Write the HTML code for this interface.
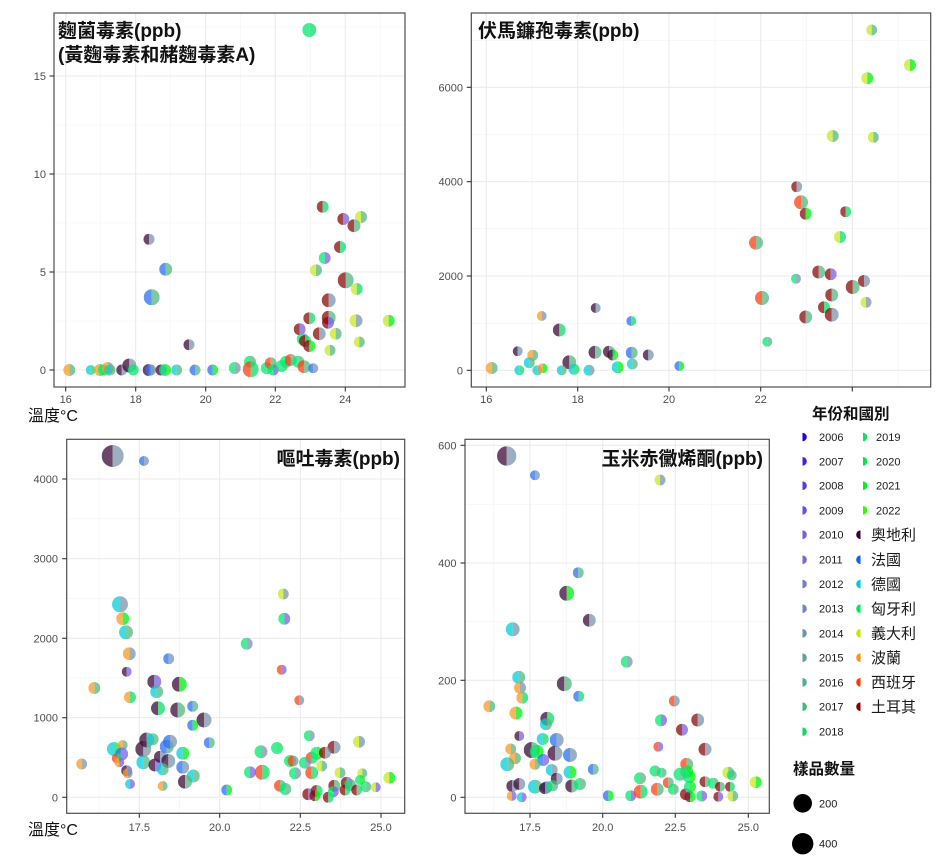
<!DOCTYPE html>
<html><head><meta charset="utf-8"><style>
html,body{margin:0;padding:0;background:#fff;}
svg{display:block;font-family:"Liberation Sans","Noto Sans CJK TC",sans-serif;}
.tk{font-size:11px;fill:#4d4d4d;}
.lg{font-size:11px;fill:#1a1a1a;}
.ct{font-size:15px;fill:#1a1a1a;font-family:"Liberation Sans","Noto Sans CJK TC",sans-serif;}
.ttl{font-size:19px;font-weight:bold;fill:#111;}
.lt{font-size:15.5px;font-weight:bold;fill:#111;}
.ax{font-size:16px;fill:#111;}
.gM{stroke:#ebebeb;stroke-width:1.1;}
.gm{stroke:#f2f2f2;stroke-width:0.6;}
.bd{fill:none;stroke:#4d4d4d;stroke-width:1.2;}
.tm{stroke:#333;stroke-width:1.1;}
.A{fill:#3b0a38}.F{fill:#2a70f5}.D{fill:#00d0dc}.H{fill:#00ec70}.I{fill:#c8e820}.P{fill:#ff9a20}.S{fill:#ff4010}.T{fill:#8b0a0a}
.y1{fill:#7895ab}.y2{fill:#55b580}.y3{fill:#10dc68}.y4{fill:#00ee10}.y5{fill:#7a60e0}
</style></head><body>
<svg width="941" height="862" viewBox="0 0 941 862" xmlns="http://www.w3.org/2000/svg">
<defs>
<clipPath id="L" clipPathUnits="objectBoundingBox"><rect x="0" y="0" width="0.5" height="1"/></clipPath>
<clipPath id="R" clipPathUnits="objectBoundingBox"><rect x="0.5" y="0" width="0.5" height="1"/></clipPath>
</defs>
<rect width="941" height="862" fill="#fff"/>

<!-- ============ PANEL 1 ============ -->
<g>
<line class="gm" x1="54" x2="405" y1="321" y2="321"/><line class="gm" x1="54" x2="405" y1="223" y2="223"/><line class="gm" x1="54" x2="405" y1="125" y2="125"/><line class="gm" x1="54" x2="405" y1="27" y2="27"/>
<line class="gm" y1="13" y2="387" x1="100.7" x2="100.7"/><line class="gm" y1="13" y2="387" x1="170.7" x2="170.7"/><line class="gm" y1="13" y2="387" x1="240.7" x2="240.7"/><line class="gm" y1="13" y2="387" x1="310.7" x2="310.7"/><line class="gm" y1="13" y2="387" x1="380.7" x2="380.7"/>
<line class="gM" x1="54" x2="405" y1="370" y2="370"/><line class="gM" x1="54" x2="405" y1="272" y2="272"/><line class="gM" x1="54" x2="405" y1="174" y2="174"/><line class="gM" x1="54" x2="405" y1="76" y2="76"/>
<line class="gM" y1="13" y2="387" x1="65.7" x2="65.7"/><line class="gM" y1="13" y2="387" x1="135.7" x2="135.7"/><line class="gM" y1="13" y2="387" x1="205.7" x2="205.7"/><line class="gM" y1="13" y2="387" x1="275.3" x2="275.3"/><line class="gM" y1="13" y2="387" x1="345.3" x2="345.3"/>
</g>
<g fill-opacity="0.75">
<circle cx="309.3" cy="30" r="7" class="H" clip-path="url(#L)"/><circle cx="309.3" cy="30" r="7" class="y3" clip-path="url(#R)"/>
<circle cx="322.7" cy="206.7" r="6" class="T" clip-path="url(#L)"/><circle cx="322.7" cy="206.7" r="6" class="y3" clip-path="url(#R)"/>
<circle cx="343.3" cy="219" r="6" class="T" clip-path="url(#L)"/><circle cx="343.3" cy="219" r="6" class="y5" clip-path="url(#R)"/>
<circle cx="361" cy="217" r="6" class="I" clip-path="url(#L)"/><circle cx="361" cy="217" r="6" class="y2" clip-path="url(#R)"/>
<circle cx="354" cy="225.7" r="6.5" class="T" clip-path="url(#L)"/><circle cx="354" cy="225.7" r="6.5" class="y2" clip-path="url(#R)"/>
<circle cx="340" cy="247" r="6" class="T" clip-path="url(#L)"/><circle cx="340" cy="247" r="6" class="y3" clip-path="url(#R)"/>
<circle cx="324.7" cy="258" r="6" class="H" clip-path="url(#L)"/><circle cx="324.7" cy="258" r="6" class="y5" clip-path="url(#R)"/>
<circle cx="316" cy="270.3" r="6" class="I" clip-path="url(#L)"/><circle cx="316" cy="270.3" r="6" class="y2" clip-path="url(#R)"/>
<circle cx="345.7" cy="280.3" r="8" class="T" clip-path="url(#L)"/><circle cx="345.7" cy="280.3" r="8" class="y2" clip-path="url(#R)"/>
<circle cx="356.7" cy="289" r="6" class="I" clip-path="url(#L)"/><circle cx="356.7" cy="289" r="6" class="y3" clip-path="url(#R)"/>
<circle cx="328.7" cy="300.3" r="7" class="T" clip-path="url(#L)"/><circle cx="328.7" cy="300.3" r="7" class="y1" clip-path="url(#R)"/>
<circle cx="309.3" cy="318.3" r="6" class="T" clip-path="url(#L)"/><circle cx="309.3" cy="318.3" r="6" class="y3" clip-path="url(#R)"/>
<circle cx="328.7" cy="317.7" r="7" class="T" clip-path="url(#L)"/><circle cx="328.7" cy="317.7" r="7" class="y2" clip-path="url(#R)"/>
<circle cx="328" cy="322.7" r="6" class="T" clip-path="url(#L)"/><circle cx="328" cy="322.7" r="6" class="y5" clip-path="url(#R)"/>
<circle cx="356" cy="320.7" r="6.5" class="I" clip-path="url(#L)"/><circle cx="356" cy="320.7" r="6.5" class="y1" clip-path="url(#R)"/>
<circle cx="388.7" cy="320.7" r="6" class="I" clip-path="url(#L)"/><circle cx="388.7" cy="320.7" r="6" class="y4" clip-path="url(#R)"/>
<circle cx="299.7" cy="329.3" r="6" class="T" clip-path="url(#L)"/><circle cx="299.7" cy="329.3" r="6" class="y5" clip-path="url(#R)"/>
<circle cx="319.3" cy="333.7" r="6.5" class="T" clip-path="url(#L)"/><circle cx="319.3" cy="333.7" r="6.5" class="y1" clip-path="url(#R)"/>
<circle cx="335.7" cy="333.7" r="6" class="I" clip-path="url(#L)"/><circle cx="335.7" cy="333.7" r="6" class="y2" clip-path="url(#R)"/>
<circle cx="302.7" cy="339" r="6" class="H" clip-path="url(#L)"/><circle cx="302.7" cy="339" r="6" class="y1" clip-path="url(#R)"/>
<circle cx="305" cy="341" r="6" class="T" clip-path="url(#L)"/><circle cx="305" cy="341" r="6" class="y3" clip-path="url(#R)"/>
<circle cx="309.3" cy="346" r="6" class="T" clip-path="url(#L)"/><circle cx="309.3" cy="346" r="6" class="y4" clip-path="url(#R)"/>
<circle cx="359.3" cy="342" r="5.5" class="I" clip-path="url(#L)"/><circle cx="359.3" cy="342" r="5.5" class="y2" clip-path="url(#R)"/>
<circle cx="330" cy="350.3" r="5.5" class="I" clip-path="url(#L)"/><circle cx="330" cy="350.3" r="5.5" class="y2" clip-path="url(#R)"/>
<circle cx="149" cy="239.3" r="5.5" class="A" clip-path="url(#L)"/><circle cx="149" cy="239.3" r="5.5" class="y1" clip-path="url(#R)"/>
<circle cx="165.7" cy="269.3" r="6.5" class="F" clip-path="url(#L)"/><circle cx="165.7" cy="269.3" r="6.5" class="y2" clip-path="url(#R)"/>
<circle cx="151.7" cy="297.3" r="8" class="F" clip-path="url(#L)"/><circle cx="151.7" cy="297.3" r="8" class="y2" clip-path="url(#R)"/>
<circle cx="189" cy="344.7" r="5.5" class="A" clip-path="url(#L)"/><circle cx="189" cy="344.7" r="5.5" class="y1" clip-path="url(#R)"/>
<circle cx="69.3" cy="370" r="6" class="P" clip-path="url(#L)"/><circle cx="69.3" cy="370" r="6" class="y2" clip-path="url(#R)"/>
<circle cx="90.7" cy="370" r="5" class="D" clip-path="url(#L)"/><circle cx="90.7" cy="370" r="5" class="y3" clip-path="url(#R)"/>
<circle cx="100" cy="370" r="6" class="P" clip-path="url(#L)"/><circle cx="100" cy="370" r="6" class="y3" clip-path="url(#R)"/>
<circle cx="103.3" cy="370" r="5.5" class="H" clip-path="url(#L)"/><circle cx="103.3" cy="370" r="5.5" class="y4" clip-path="url(#R)"/>
<circle cx="107.7" cy="368" r="6" class="P" clip-path="url(#L)"/><circle cx="107.7" cy="368" r="6" class="y1" clip-path="url(#R)"/>
<circle cx="110" cy="370" r="5.5" class="D" clip-path="url(#L)"/><circle cx="110" cy="370" r="5.5" class="y2" clip-path="url(#R)"/>
<circle cx="121.7" cy="370" r="5.5" class="A" clip-path="url(#L)"/><circle cx="121.7" cy="370" r="5.5" class="y1" clip-path="url(#R)"/>
<circle cx="129.3" cy="365.5" r="7" class="A" clip-path="url(#L)"/><circle cx="129.3" cy="365.5" r="7" class="y1" clip-path="url(#R)"/>
<circle cx="133.3" cy="370" r="5.5" class="H" clip-path="url(#L)"/><circle cx="133.3" cy="370" r="5.5" class="y3" clip-path="url(#R)"/>
<circle cx="148.7" cy="370" r="6" class="A" clip-path="url(#L)"/><circle cx="148.7" cy="370" r="6" class="y1" clip-path="url(#R)"/>
<circle cx="150.7" cy="370" r="5.5" class="F" clip-path="url(#L)"/><circle cx="150.7" cy="370" r="5.5" class="y1" clip-path="url(#R)"/>
<circle cx="161" cy="370" r="5.5" class="A" clip-path="url(#L)"/><circle cx="161" cy="370" r="5.5" class="y5" clip-path="url(#R)"/>
<circle cx="165" cy="370" r="6" class="H" clip-path="url(#L)"/><circle cx="165" cy="370" r="6" class="y4" clip-path="url(#R)"/>
<circle cx="176.7" cy="370" r="5.5" class="D" clip-path="url(#L)"/><circle cx="176.7" cy="370" r="5.5" class="y2" clip-path="url(#R)"/>
<circle cx="195" cy="370" r="5.5" class="F" clip-path="url(#L)"/><circle cx="195" cy="370" r="5.5" class="y2" clip-path="url(#R)"/>
<circle cx="212.7" cy="370" r="5.5" class="F" clip-path="url(#L)"/><circle cx="212.7" cy="370" r="5.5" class="y4" clip-path="url(#R)"/>
<circle cx="234.7" cy="368" r="6" class="H" clip-path="url(#L)"/><circle cx="234.7" cy="368" r="6" class="y1" clip-path="url(#R)"/>
<circle cx="250" cy="361.7" r="6" class="H" clip-path="url(#L)"/><circle cx="250" cy="361.7" r="6" class="y2" clip-path="url(#R)"/>
<circle cx="250.7" cy="369.3" r="8" class="S" clip-path="url(#L)"/><circle cx="250.7" cy="369.3" r="8" class="y3" clip-path="url(#R)"/>
<circle cx="266.7" cy="368.3" r="6" class="H" clip-path="url(#L)"/><circle cx="266.7" cy="368.3" r="6" class="y3" clip-path="url(#R)"/>
<circle cx="270.7" cy="363.3" r="6" class="S" clip-path="url(#L)"/><circle cx="270.7" cy="363.3" r="6" class="y2" clip-path="url(#R)"/>
<circle cx="273.3" cy="370" r="5.5" class="H" clip-path="url(#L)"/><circle cx="273.3" cy="370" r="5.5" class="y5" clip-path="url(#R)"/>
<circle cx="281.7" cy="366" r="6" class="H" clip-path="url(#L)"/><circle cx="281.7" cy="366" r="6" class="y3" clip-path="url(#R)"/>
<circle cx="286" cy="361.7" r="6" class="H" clip-path="url(#L)"/><circle cx="286" cy="361.7" r="6" class="y2" clip-path="url(#R)"/>
<circle cx="290.7" cy="360" r="6" class="S" clip-path="url(#L)"/><circle cx="290.7" cy="360" r="6" class="y2" clip-path="url(#R)"/>
<circle cx="298.3" cy="361.7" r="6" class="H" clip-path="url(#L)"/><circle cx="298.3" cy="361.7" r="6" class="y2" clip-path="url(#R)"/>
<circle cx="304" cy="366.7" r="6.5" class="S" clip-path="url(#L)"/><circle cx="304" cy="366.7" r="6.5" class="y2" clip-path="url(#R)"/>
<circle cx="313.3" cy="368.3" r="5" class="F" clip-path="url(#L)"/><circle cx="313.3" cy="368.3" r="5" class="y1" clip-path="url(#R)"/>
</g>
<rect class="bd" x="54" y="13" width="351" height="374"/>
<g class="tm">
<line x1="49.5" x2="54" y1="370" y2="370"/><line x1="49.5" x2="54" y1="272" y2="272"/><line x1="49.5" x2="54" y1="174" y2="174"/><line x1="49.5" x2="54" y1="76" y2="76"/>
<line y1="387" y2="391.5" x1="65.7" x2="65.7"/><line y1="387" y2="391.5" x1="135.7" x2="135.7"/><line y1="387" y2="391.5" x1="205.7" x2="205.7"/><line y1="387" y2="391.5" x1="275.3" x2="275.3"/><line y1="387" y2="391.5" x1="345.3" x2="345.3"/>
</g>
<g class="tk" text-anchor="end">
<text x="46" y="374">0</text><text x="46" y="276">5</text><text x="46" y="178">10</text><text x="46" y="80">15</text>
</g>
<g class="tk" text-anchor="middle">
<text x="65.7" y="403">16</text><text x="135.7" y="403">18</text><text x="205.7" y="403">20</text><text x="275.3" y="403">22</text><text x="345.3" y="403">24</text>
</g>
<text class="ttl" x="58" y="37">麴菌毒素(ppb)</text>
<text class="ttl" x="58" y="61">(黃麴毒素和赭麴毒素A)</text>
<text class="ax" x="28" y="421">溫度°C</text>

<!-- ============ PANEL 2 ============ -->
<g>
<line class="gm" x1="471.3" x2="930.7" y1="323.2" y2="323.2"/><line class="gm" x1="471.3" x2="930.7" y1="228.8" y2="228.8"/><line class="gm" x1="471.3" x2="930.7" y1="134.5" y2="134.5"/><line class="gm" x1="471.3" x2="930.7" y1="40.2" y2="40.2"/>
<line class="gm" y1="13" y2="387" x1="532" x2="532"/><line class="gm" y1="13" y2="387" x1="623.4" x2="623.4"/><line class="gm" y1="13" y2="387" x1="714.9" x2="714.9"/><line class="gm" y1="13" y2="387" x1="806.5" x2="806.5"/><line class="gm" y1="13" y2="387" x1="898" x2="898"/>
<line class="gM" x1="471.3" x2="930.7" y1="370.3" y2="370.3"/><line class="gM" x1="471.3" x2="930.7" y1="276" y2="276"/><line class="gM" x1="471.3" x2="930.7" y1="181.7" y2="181.7"/><line class="gM" x1="471.3" x2="930.7" y1="87.3" y2="87.3"/>
<line class="gM" y1="13" y2="387" x1="486.3" x2="486.3"/><line class="gM" y1="13" y2="387" x1="577.7" x2="577.7"/><line class="gM" y1="13" y2="387" x1="669" x2="669"/><line class="gM" y1="13" y2="387" x1="760.7" x2="760.7"/><line class="gM" y1="13" y2="387" x1="852.3" x2="852.3"/>
</g>
<g fill-opacity="0.75">
<circle cx="871.7" cy="30" r="5.5" class="I" clip-path="url(#L)"/><circle cx="871.7" cy="30" r="5.5" class="y2" clip-path="url(#R)"/>
<circle cx="910" cy="65" r="6" class="I" clip-path="url(#L)"/><circle cx="910" cy="65" r="6" class="y4" clip-path="url(#R)"/>
<circle cx="867.3" cy="78.3" r="6" class="I" clip-path="url(#L)"/><circle cx="867.3" cy="78.3" r="6" class="y4" clip-path="url(#R)"/>
<circle cx="832.7" cy="136" r="6" class="I" clip-path="url(#L)"/><circle cx="832.7" cy="136" r="6" class="y2" clip-path="url(#R)"/>
<circle cx="873.3" cy="137.3" r="5.5" class="I" clip-path="url(#L)"/><circle cx="873.3" cy="137.3" r="5.5" class="y2" clip-path="url(#R)"/>
<circle cx="796.7" cy="186.7" r="5.5" class="T" clip-path="url(#L)"/><circle cx="796.7" cy="186.7" r="5.5" class="y1" clip-path="url(#R)"/>
<circle cx="801" cy="202.3" r="7" class="S" clip-path="url(#L)"/><circle cx="801" cy="202.3" r="7" class="y2" clip-path="url(#R)"/>
<circle cx="805.7" cy="213.7" r="6" class="T" clip-path="url(#L)"/><circle cx="805.7" cy="213.7" r="6" class="y4" clip-path="url(#R)"/>
<circle cx="845.7" cy="211.7" r="5.5" class="T" clip-path="url(#L)"/><circle cx="845.7" cy="211.7" r="5.5" class="y3" clip-path="url(#R)"/>
<circle cx="840" cy="237" r="6" class="I" clip-path="url(#L)"/><circle cx="840" cy="237" r="6" class="y3" clip-path="url(#R)"/>
<circle cx="756" cy="242.7" r="7" class="S" clip-path="url(#L)"/><circle cx="756" cy="242.7" r="7" class="y2" clip-path="url(#R)"/>
<circle cx="818.7" cy="272" r="6.5" class="T" clip-path="url(#L)"/><circle cx="818.7" cy="272" r="6.5" class="y2" clip-path="url(#R)"/>
<circle cx="830.7" cy="274.3" r="6" class="T" clip-path="url(#L)"/><circle cx="830.7" cy="274.3" r="6" class="y5" clip-path="url(#R)"/>
<circle cx="796" cy="278.7" r="5" class="H" clip-path="url(#L)"/><circle cx="796" cy="278.7" r="5" class="y1" clip-path="url(#R)"/>
<circle cx="864" cy="281" r="6" class="T" clip-path="url(#L)"/><circle cx="864" cy="281" r="6" class="y1" clip-path="url(#R)"/>
<circle cx="852.7" cy="287" r="7" class="T" clip-path="url(#L)"/><circle cx="852.7" cy="287" r="7" class="y2" clip-path="url(#R)"/>
<circle cx="762" cy="298" r="7" class="S" clip-path="url(#L)"/><circle cx="762" cy="298" r="7" class="y2" clip-path="url(#R)"/>
<circle cx="831.7" cy="295" r="6.5" class="T" clip-path="url(#L)"/><circle cx="831.7" cy="295" r="6.5" class="y2" clip-path="url(#R)"/>
<circle cx="866" cy="302.3" r="5.5" class="I" clip-path="url(#L)"/><circle cx="866" cy="302.3" r="5.5" class="y1" clip-path="url(#R)"/>
<circle cx="824" cy="307.3" r="6" class="T" clip-path="url(#L)"/><circle cx="824" cy="307.3" r="6" class="y3" clip-path="url(#R)"/>
<circle cx="831.7" cy="314.7" r="7" class="T" clip-path="url(#L)"/><circle cx="831.7" cy="314.7" r="7" class="y1" clip-path="url(#R)"/>
<circle cx="805.7" cy="317" r="6.5" class="T" clip-path="url(#L)"/><circle cx="805.7" cy="317" r="6.5" class="y2" clip-path="url(#R)"/>
<circle cx="767.3" cy="341.7" r="5" class="H" clip-path="url(#L)"/><circle cx="767.3" cy="341.7" r="5" class="y2" clip-path="url(#R)"/>
<circle cx="541.7" cy="316" r="5" class="P" clip-path="url(#L)"/><circle cx="541.7" cy="316" r="5" class="y1" clip-path="url(#R)"/>
<circle cx="595.7" cy="308" r="5" class="A" clip-path="url(#L)"/><circle cx="595.7" cy="308" r="5" class="y1" clip-path="url(#R)"/>
<circle cx="631.3" cy="321" r="5" class="F" clip-path="url(#L)"/><circle cx="631.3" cy="321" r="5" class="y3" clip-path="url(#R)"/>
<circle cx="559.3" cy="330" r="6.5" class="A" clip-path="url(#L)"/><circle cx="559.3" cy="330" r="6.5" class="y3" clip-path="url(#R)"/>
<circle cx="517.7" cy="351.3" r="5" class="A" clip-path="url(#L)"/><circle cx="517.7" cy="351.3" r="5" class="y1" clip-path="url(#R)"/>
<circle cx="532.7" cy="355.3" r="5.5" class="P" clip-path="url(#L)"/><circle cx="532.7" cy="355.3" r="5.5" class="y2" clip-path="url(#R)"/>
<circle cx="529.3" cy="362.7" r="5.5" class="D" clip-path="url(#L)"/><circle cx="529.3" cy="362.7" r="5.5" class="y2" clip-path="url(#R)"/>
<circle cx="569.3" cy="362.3" r="7" class="A" clip-path="url(#L)"/><circle cx="569.3" cy="362.3" r="7" class="y2" clip-path="url(#R)"/>
<circle cx="595" cy="352.3" r="6.5" class="A" clip-path="url(#L)"/><circle cx="595" cy="352.3" r="6.5" class="y2" clip-path="url(#R)"/>
<circle cx="609" cy="351.7" r="6" class="A" clip-path="url(#L)"/><circle cx="609" cy="351.7" r="6" class="y2" clip-path="url(#R)"/>
<circle cx="612.7" cy="355" r="5.5" class="A" clip-path="url(#L)"/><circle cx="612.7" cy="355" r="5.5" class="y4" clip-path="url(#R)"/>
<circle cx="631.7" cy="352.7" r="6" class="F" clip-path="url(#L)"/><circle cx="631.7" cy="352.7" r="6" class="y2" clip-path="url(#R)"/>
<circle cx="632.3" cy="364" r="5.5" class="D" clip-path="url(#L)"/><circle cx="632.3" cy="364" r="5.5" class="y2" clip-path="url(#R)"/>
<circle cx="648.3" cy="355" r="5.5" class="A" clip-path="url(#L)"/><circle cx="648.3" cy="355" r="5.5" class="y1" clip-path="url(#R)"/>
<circle cx="491.7" cy="368" r="6" class="P" clip-path="url(#L)"/><circle cx="491.7" cy="368" r="6" class="y2" clip-path="url(#R)"/>
<circle cx="519.3" cy="370.3" r="5" class="D" clip-path="url(#L)"/><circle cx="519.3" cy="370.3" r="5" class="y3" clip-path="url(#R)"/>
<circle cx="537.3" cy="370.3" r="5" class="D" clip-path="url(#L)"/><circle cx="537.3" cy="370.3" r="5" class="y2" clip-path="url(#R)"/>
<circle cx="542.7" cy="368.3" r="5" class="P" clip-path="url(#L)"/><circle cx="542.7" cy="368.3" r="5" class="y4" clip-path="url(#R)"/>
<circle cx="561.7" cy="370.3" r="5" class="D" clip-path="url(#L)"/><circle cx="561.7" cy="370.3" r="5" class="y2" clip-path="url(#R)"/>
<circle cx="574" cy="369.3" r="5.5" class="D" clip-path="url(#L)"/><circle cx="574" cy="369.3" r="5.5" class="y3" clip-path="url(#R)"/>
<circle cx="589" cy="370.3" r="5.5" class="D" clip-path="url(#L)"/><circle cx="589" cy="370.3" r="5.5" class="y1" clip-path="url(#R)"/>
<circle cx="617.7" cy="367.3" r="6" class="D" clip-path="url(#L)"/><circle cx="617.7" cy="367.3" r="6" class="y4" clip-path="url(#R)"/>
<circle cx="679.3" cy="366" r="5" class="F" clip-path="url(#L)"/><circle cx="679.3" cy="366" r="5" class="y4" clip-path="url(#R)"/>
</g>
<rect class="bd" x="471.3" y="13" width="459.4" height="374"/>
<g class="tm">
<line x1="466.8" x2="471.3" y1="370.3" y2="370.3"/><line x1="466.8" x2="471.3" y1="276" y2="276"/><line x1="466.8" x2="471.3" y1="181.7" y2="181.7"/><line x1="466.8" x2="471.3" y1="87.3" y2="87.3"/>
<line y1="387" y2="391.5" x1="486.3" x2="486.3"/><line y1="387" y2="391.5" x1="577.7" x2="577.7"/><line y1="387" y2="391.5" x1="669" x2="669"/><line y1="387" y2="391.5" x1="760.7" x2="760.7"/><line y1="387" y2="391.5" x1="852.3" x2="852.3"/>
</g>
<g class="tk" text-anchor="end">
<text x="463" y="374.3">0</text><text x="463" y="280">2000</text><text x="463" y="185.7">4000</text><text x="463" y="91.3">6000</text>
</g>
<g class="tk" text-anchor="middle">
<text x="486.3" y="403">16</text><text x="577.7" y="403">18</text><text x="669" y="403">20</text><text x="760.7" y="403">22</text>
</g>
<text class="ttl" x="478" y="37">伏馬鐮孢毒素(ppb)</text>

<!-- ============ PANEL 3 ============ -->
<g>
<line class="gm" x1="66.7" x2="404.7" y1="757.5" y2="757.5"/><line class="gm" x1="66.7" x2="404.7" y1="678" y2="678"/><line class="gm" x1="66.7" x2="404.7" y1="598.5" y2="598.5"/><line class="gm" x1="66.7" x2="404.7" y1="518.8" y2="518.8"/>
<line class="gm" y1="439.3" y2="813.3" x1="99" x2="99"/><line class="gm" y1="439.3" y2="813.3" x1="179.5" x2="179.5"/><line class="gm" y1="439.3" y2="813.3" x1="260" x2="260"/><line class="gm" y1="439.3" y2="813.3" x1="340.6" x2="340.6"/>
<line class="gM" x1="66.7" x2="404.7" y1="797.3" y2="797.3"/><line class="gM" x1="66.7" x2="404.7" y1="717.7" y2="717.7"/><line class="gM" x1="66.7" x2="404.7" y1="638.3" y2="638.3"/><line class="gM" x1="66.7" x2="404.7" y1="558.7" y2="558.7"/><line class="gM" x1="66.7" x2="404.7" y1="479" y2="479"/>
<line class="gM" y1="439.3" y2="813.3" x1="139.3" x2="139.3"/><line class="gM" y1="439.3" y2="813.3" x1="219.7" x2="219.7"/><line class="gM" y1="439.3" y2="813.3" x1="300.3" x2="300.3"/><line class="gM" y1="439.3" y2="813.3" x1="381" x2="381"/>
</g>
<g fill-opacity="0.75">
<circle cx="112.7" cy="456" r="11" class="A" clip-path="url(#L)"/><circle cx="112.7" cy="456" r="11" class="y1" clip-path="url(#R)"/>
<circle cx="144" cy="461" r="5" class="F" clip-path="url(#L)"/><circle cx="144" cy="461" r="5" class="y1" clip-path="url(#R)"/>
<circle cx="120" cy="604.3" r="8" class="D" clip-path="url(#L)"/><circle cx="120" cy="604.3" r="8" class="y1" clip-path="url(#R)"/>
<circle cx="122.7" cy="618.7" r="6.5" class="P" clip-path="url(#L)"/><circle cx="122.7" cy="618.7" r="6.5" class="y4" clip-path="url(#R)"/>
<circle cx="126" cy="632.3" r="7" class="D" clip-path="url(#L)"/><circle cx="126" cy="632.3" r="7" class="y2" clip-path="url(#R)"/>
<circle cx="129.3" cy="653.7" r="6.5" class="P" clip-path="url(#L)"/><circle cx="129.3" cy="653.7" r="6.5" class="y1" clip-path="url(#R)"/>
<circle cx="126.7" cy="671.7" r="5" class="A" clip-path="url(#L)"/><circle cx="126.7" cy="671.7" r="5" class="y5" clip-path="url(#R)"/>
<circle cx="94.3" cy="688" r="6" class="P" clip-path="url(#L)"/><circle cx="94.3" cy="688" r="6" class="y2" clip-path="url(#R)"/>
<circle cx="130" cy="697.3" r="6" class="P" clip-path="url(#L)"/><circle cx="130" cy="697.3" r="6" class="y3" clip-path="url(#R)"/>
<circle cx="168.7" cy="658.7" r="5.5" class="F" clip-path="url(#L)"/><circle cx="168.7" cy="658.7" r="5.5" class="y1" clip-path="url(#R)"/>
<circle cx="154.3" cy="681.7" r="7" class="A" clip-path="url(#L)"/><circle cx="154.3" cy="681.7" r="7" class="y5" clip-path="url(#R)"/>
<circle cx="179.3" cy="684.3" r="7.5" class="A" clip-path="url(#L)"/><circle cx="179.3" cy="684.3" r="7.5" class="y4" clip-path="url(#R)"/>
<circle cx="156.7" cy="691.7" r="6.5" class="D" clip-path="url(#L)"/><circle cx="156.7" cy="691.7" r="6.5" class="y2" clip-path="url(#R)"/>
<circle cx="158" cy="708.3" r="7" class="A" clip-path="url(#L)"/><circle cx="158" cy="708.3" r="7" class="y3" clip-path="url(#R)"/>
<circle cx="177.7" cy="710" r="7.5" class="A" clip-path="url(#L)"/><circle cx="177.7" cy="710" r="7.5" class="y2" clip-path="url(#R)"/>
<circle cx="192.7" cy="706.3" r="5.5" class="F" clip-path="url(#L)"/><circle cx="192.7" cy="706.3" r="5.5" class="y2" clip-path="url(#R)"/>
<circle cx="204" cy="720" r="7.5" class="A" clip-path="url(#L)"/><circle cx="204" cy="720" r="7.5" class="y1" clip-path="url(#R)"/>
<circle cx="192.7" cy="725.3" r="5.5" class="F" clip-path="url(#L)"/><circle cx="192.7" cy="725.3" r="5.5" class="y4" clip-path="url(#R)"/>
<circle cx="209.3" cy="742.7" r="5.5" class="F" clip-path="url(#L)"/><circle cx="209.3" cy="742.7" r="5.5" class="y2" clip-path="url(#R)"/>
<circle cx="81.7" cy="764" r="5.5" class="P" clip-path="url(#L)"/><circle cx="81.7" cy="764" r="5.5" class="y1" clip-path="url(#R)"/>
<circle cx="114" cy="749" r="7" class="D" clip-path="url(#L)"/><circle cx="114" cy="749" r="7" class="y3" clip-path="url(#R)"/>
<circle cx="122.7" cy="745" r="5" class="P" clip-path="url(#L)"/><circle cx="122.7" cy="745" r="5" class="y2" clip-path="url(#R)"/>
<circle cx="121.7" cy="754" r="6.5" class="F" clip-path="url(#L)"/><circle cx="121.7" cy="754" r="6.5" class="y5" clip-path="url(#R)"/>
<circle cx="116.7" cy="758.3" r="5" class="S" clip-path="url(#L)"/><circle cx="116.7" cy="758.3" r="5" class="y3" clip-path="url(#R)"/>
<circle cx="119.3" cy="762.3" r="5" class="P" clip-path="url(#L)"/><circle cx="119.3" cy="762.3" r="5" class="y5" clip-path="url(#R)"/>
<circle cx="126.7" cy="770.7" r="5.5" class="A" clip-path="url(#L)"/><circle cx="126.7" cy="770.7" r="5.5" class="y5" clip-path="url(#R)"/>
<circle cx="127.7" cy="773.3" r="5" class="P" clip-path="url(#L)"/><circle cx="127.7" cy="773.3" r="5" class="y1" clip-path="url(#R)"/>
<circle cx="130" cy="784" r="5" class="D" clip-path="url(#L)"/><circle cx="130" cy="784" r="5" class="y5" clip-path="url(#R)"/>
<circle cx="162.7" cy="786" r="5" class="P" clip-path="url(#L)"/><circle cx="162.7" cy="786" r="5" class="y2" clip-path="url(#R)"/>
<circle cx="143.3" cy="749" r="8" class="A" clip-path="url(#L)"/><circle cx="143.3" cy="749" r="8" class="y1" clip-path="url(#R)"/>
<circle cx="146.7" cy="740" r="7.5" class="A" clip-path="url(#L)"/><circle cx="146.7" cy="740" r="7.5" class="y2" clip-path="url(#R)"/>
<circle cx="152.7" cy="739.3" r="6" class="D" clip-path="url(#L)"/><circle cx="152.7" cy="739.3" r="6" class="y2" clip-path="url(#R)"/>
<circle cx="143.3" cy="762.3" r="7" class="D" clip-path="url(#L)"/><circle cx="143.3" cy="762.3" r="7" class="y2" clip-path="url(#R)"/>
<circle cx="155" cy="765" r="6.5" class="A" clip-path="url(#L)"/><circle cx="155" cy="765" r="6.5" class="y5" clip-path="url(#R)"/>
<circle cx="160" cy="756.7" r="6" class="A" clip-path="url(#L)"/><circle cx="160" cy="756.7" r="6" class="y1" clip-path="url(#R)"/>
<circle cx="166.7" cy="746.7" r="7" class="F" clip-path="url(#L)"/><circle cx="166.7" cy="746.7" r="7" class="y2" clip-path="url(#R)"/>
<circle cx="170" cy="741.7" r="7" class="F" clip-path="url(#L)"/><circle cx="170" cy="741.7" r="7" class="y1" clip-path="url(#R)"/>
<circle cx="168.3" cy="761" r="7" class="A" clip-path="url(#L)"/><circle cx="168.3" cy="761" r="7" class="y1" clip-path="url(#R)"/>
<circle cx="162.7" cy="769.3" r="6" class="D" clip-path="url(#L)"/><circle cx="162.7" cy="769.3" r="6" class="y2" clip-path="url(#R)"/>
<circle cx="182.7" cy="753.3" r="6.5" class="D" clip-path="url(#L)"/><circle cx="182.7" cy="753.3" r="6.5" class="y4" clip-path="url(#R)"/>
<circle cx="182.7" cy="767.3" r="6.5" class="F" clip-path="url(#L)"/><circle cx="182.7" cy="767.3" r="6.5" class="y1" clip-path="url(#R)"/>
<circle cx="193.3" cy="776" r="6.5" class="D" clip-path="url(#L)"/><circle cx="193.3" cy="776" r="6.5" class="y2" clip-path="url(#R)"/>
<circle cx="185" cy="781.7" r="7" class="A" clip-path="url(#L)"/><circle cx="185" cy="781.7" r="7" class="y2" clip-path="url(#R)"/>
<circle cx="226.7" cy="790" r="5.5" class="F" clip-path="url(#L)"/><circle cx="226.7" cy="790" r="5.5" class="y4" clip-path="url(#R)"/>
<circle cx="246.7" cy="643.7" r="6" class="H" clip-path="url(#L)"/><circle cx="246.7" cy="643.7" r="6" class="y1" clip-path="url(#R)"/>
<circle cx="283.3" cy="594" r="5.5" class="I" clip-path="url(#L)"/><circle cx="283.3" cy="594" r="5.5" class="y1" clip-path="url(#R)"/>
<circle cx="284.3" cy="618.7" r="6" class="H" clip-path="url(#L)"/><circle cx="284.3" cy="618.7" r="6" class="y5" clip-path="url(#R)"/>
<circle cx="281.7" cy="669.7" r="5" class="S" clip-path="url(#L)"/><circle cx="281.7" cy="669.7" r="5" class="y5" clip-path="url(#R)"/>
<circle cx="299.3" cy="700.3" r="5" class="S" clip-path="url(#L)"/><circle cx="299.3" cy="700.3" r="5" class="y1" clip-path="url(#R)"/>
<circle cx="309.3" cy="735.7" r="5.5" class="H" clip-path="url(#L)"/><circle cx="309.3" cy="735.7" r="5.5" class="y1" clip-path="url(#R)"/>
<circle cx="359" cy="741.7" r="6" class="I" clip-path="url(#L)"/><circle cx="359" cy="741.7" r="6" class="y1" clip-path="url(#R)"/>
<circle cx="277" cy="748" r="6" class="H" clip-path="url(#L)"/><circle cx="277" cy="748" r="6" class="y3" clip-path="url(#R)"/>
<circle cx="261" cy="751.7" r="6.5" class="H" clip-path="url(#L)"/><circle cx="261" cy="751.7" r="6.5" class="y1" clip-path="url(#R)"/>
<circle cx="334" cy="747.3" r="6.5" class="T" clip-path="url(#L)"/><circle cx="334" cy="747.3" r="6.5" class="y1" clip-path="url(#R)"/>
<circle cx="290" cy="761" r="6" class="H" clip-path="url(#L)"/><circle cx="290" cy="761" r="6" class="y3" clip-path="url(#R)"/>
<circle cx="293" cy="761" r="5.5" class="S" clip-path="url(#L)"/><circle cx="293" cy="761" r="5.5" class="y1" clip-path="url(#R)"/>
<circle cx="311.7" cy="757.7" r="6" class="S" clip-path="url(#L)"/><circle cx="311.7" cy="757.7" r="6" class="y3" clip-path="url(#R)"/>
<circle cx="316.7" cy="753.3" r="6.5" class="H" clip-path="url(#L)"/><circle cx="316.7" cy="753.3" r="6.5" class="y4" clip-path="url(#R)"/>
<circle cx="325" cy="752.7" r="6" class="T" clip-path="url(#L)"/><circle cx="325" cy="752.7" r="6" class="y1" clip-path="url(#R)"/>
<circle cx="305" cy="762.7" r="6" class="H" clip-path="url(#L)"/><circle cx="305" cy="762.7" r="6" class="y1" clip-path="url(#R)"/>
<circle cx="321.7" cy="766" r="5.5" class="I" clip-path="url(#L)"/><circle cx="321.7" cy="766" r="5.5" class="y2" clip-path="url(#R)"/>
<circle cx="262.3" cy="772.3" r="7.5" class="S" clip-path="url(#L)"/><circle cx="262.3" cy="772.3" r="7.5" class="y3" clip-path="url(#R)"/>
<circle cx="250" cy="772.3" r="6" class="H" clip-path="url(#L)"/><circle cx="250" cy="772.3" r="6" class="y5" clip-path="url(#R)"/>
<circle cx="295" cy="773.3" r="6" class="H" clip-path="url(#L)"/><circle cx="295" cy="773.3" r="6" class="y1" clip-path="url(#R)"/>
<circle cx="311.7" cy="772.7" r="6.5" class="S" clip-path="url(#L)"/><circle cx="311.7" cy="772.7" r="6.5" class="y3" clip-path="url(#R)"/>
<circle cx="340" cy="772.7" r="5.5" class="I" clip-path="url(#L)"/><circle cx="340" cy="772.7" r="5.5" class="y2" clip-path="url(#R)"/>
<circle cx="362.3" cy="773.3" r="5" class="I" clip-path="url(#L)"/><circle cx="362.3" cy="773.3" r="5" class="y2" clip-path="url(#R)"/>
<circle cx="389.3" cy="777.7" r="6" class="I" clip-path="url(#L)"/><circle cx="389.3" cy="777.7" r="6" class="y4" clip-path="url(#R)"/>
<circle cx="280" cy="785.7" r="6" class="S" clip-path="url(#L)"/><circle cx="280" cy="785.7" r="6" class="y2" clip-path="url(#R)"/>
<circle cx="285.3" cy="789" r="6" class="H" clip-path="url(#L)"/><circle cx="285.3" cy="789" r="6" class="y2" clip-path="url(#R)"/>
<circle cx="375.7" cy="787.3" r="5" class="I" clip-path="url(#L)"/><circle cx="375.7" cy="787.3" r="5" class="y5" clip-path="url(#R)"/>
<circle cx="308.3" cy="794.3" r="6" class="T" clip-path="url(#L)"/><circle cx="308.3" cy="794.3" r="6" class="y5" clip-path="url(#R)"/>
<circle cx="316.7" cy="791" r="6" class="T" clip-path="url(#L)"/><circle cx="316.7" cy="791" r="6" class="y3" clip-path="url(#R)"/>
<circle cx="315" cy="795.7" r="5.5" class="T" clip-path="url(#L)"/><circle cx="315" cy="795.7" r="5.5" class="y4" clip-path="url(#R)"/>
<circle cx="328.3" cy="797.3" r="5.5" class="T" clip-path="url(#L)"/><circle cx="328.3" cy="797.3" r="5.5" class="y3" clip-path="url(#R)"/>
<circle cx="334.3" cy="785.7" r="6" class="T" clip-path="url(#L)"/><circle cx="334.3" cy="785.7" r="6" class="y2" clip-path="url(#R)"/>
<circle cx="346.7" cy="782.7" r="6" class="T" clip-path="url(#L)"/><circle cx="346.7" cy="782.7" r="6" class="y5" clip-path="url(#R)"/>
<circle cx="350" cy="785" r="6" class="H" clip-path="url(#L)"/><circle cx="350" cy="785" r="6" class="y2" clip-path="url(#R)"/>
<circle cx="345" cy="790" r="5.5" class="T" clip-path="url(#L)"/><circle cx="345" cy="790" r="5.5" class="y3" clip-path="url(#R)"/>
<circle cx="356.7" cy="790" r="5.5" class="T" clip-path="url(#L)"/><circle cx="356.7" cy="790" r="5.5" class="y2" clip-path="url(#R)"/>
<circle cx="360" cy="780" r="5" class="H" clip-path="url(#L)"/><circle cx="360" cy="780" r="5" class="y4" clip-path="url(#R)"/>
<circle cx="365.7" cy="786.7" r="5.5" class="H" clip-path="url(#L)"/><circle cx="365.7" cy="786.7" r="5.5" class="y2" clip-path="url(#R)"/>
<circle cx="333.3" cy="791.7" r="5.5" class="H" clip-path="url(#L)"/><circle cx="333.3" cy="791.7" r="5.5" class="y5" clip-path="url(#R)"/>
</g>
<rect class="bd" x="66.7" y="439.3" width="338" height="374"/>
<g class="tm">
<line x1="62.2" x2="66.7" y1="797.3" y2="797.3"/><line x1="62.2" x2="66.7" y1="717.7" y2="717.7"/><line x1="62.2" x2="66.7" y1="638.3" y2="638.3"/><line x1="62.2" x2="66.7" y1="558.7" y2="558.7"/><line x1="62.2" x2="66.7" y1="479" y2="479"/>
<line y1="813.3" y2="817.8" x1="139.3" x2="139.3"/><line y1="813.3" y2="817.8" x1="219.7" x2="219.7"/><line y1="813.3" y2="817.8" x1="300.3" x2="300.3"/><line y1="813.3" y2="817.8" x1="381" x2="381"/>
</g>
<g class="tk" text-anchor="end">
<text x="58" y="801.3">0</text><text x="58" y="721.7">1000</text><text x="58" y="642.3">2000</text><text x="58" y="562.7">3000</text><text x="58" y="483">4000</text>
</g>
<g class="tk" text-anchor="middle">
<text x="139.3" y="831">17.5</text><text x="219.7" y="831">20.0</text><text x="300.3" y="831">22.5</text><text x="381" y="831">25.0</text>
</g>
<text class="ttl" x="400" y="465" text-anchor="end">嘔吐毒素(ppb)</text>
<text class="ax" x="28" y="835">溫度°C</text>

<!-- ============ PANEL 4 ============ -->
<g>
<line class="gm" x1="465" x2="769.3" y1="738.8" y2="738.8"/><line class="gm" x1="465" x2="769.3" y1="621.7" y2="621.7"/><line class="gm" x1="465" x2="769.3" y1="504.2" y2="504.2"/>
<line class="gm" y1="439.3" y2="813.3" x1="493.6" x2="493.6"/><line class="gm" y1="439.3" y2="813.3" x1="566.4" x2="566.4"/><line class="gm" y1="439.3" y2="813.3" x1="639" x2="639"/><line class="gm" y1="439.3" y2="813.3" x1="711.8" x2="711.8"/>
<line class="gM" x1="465" x2="769.3" y1="797.3" y2="797.3"/><line class="gM" x1="465" x2="769.3" y1="680.3" y2="680.3"/><line class="gM" x1="465" x2="769.3" y1="563" y2="563"/><line class="gM" x1="465" x2="769.3" y1="445.3" y2="445.3"/>
<line class="gM" y1="439.3" y2="813.3" x1="530" x2="530"/><line class="gM" y1="439.3" y2="813.3" x1="602.7" x2="602.7"/><line class="gM" y1="439.3" y2="813.3" x1="675.3" x2="675.3"/><line class="gM" y1="439.3" y2="813.3" x1="748.3" x2="748.3"/>
</g>
<g fill-opacity="0.75">
<circle cx="506.7" cy="456" r="9.7" class="A" clip-path="url(#L)"/><circle cx="506.7" cy="456" r="9.7" class="y1" clip-path="url(#R)"/>
<circle cx="535" cy="475.3" r="5" class="F" clip-path="url(#L)"/><circle cx="535" cy="475.3" r="5" class="y1" clip-path="url(#R)"/>
<circle cx="660" cy="480" r="5.5" class="I" clip-path="url(#L)"/><circle cx="660" cy="480" r="5.5" class="y1" clip-path="url(#R)"/>
<circle cx="578.3" cy="572.7" r="5.5" class="F" clip-path="url(#L)"/><circle cx="578.3" cy="572.7" r="5.5" class="y2" clip-path="url(#R)"/>
<circle cx="566.7" cy="593.3" r="7.5" class="A" clip-path="url(#L)"/><circle cx="566.7" cy="593.3" r="7.5" class="y4" clip-path="url(#R)"/>
<circle cx="589.3" cy="620.3" r="6.5" class="A" clip-path="url(#L)"/><circle cx="589.3" cy="620.3" r="6.5" class="y1" clip-path="url(#R)"/>
<circle cx="512.7" cy="629.3" r="7" class="D" clip-path="url(#L)"/><circle cx="512.7" cy="629.3" r="7" class="y1" clip-path="url(#R)"/>
<circle cx="626.7" cy="661.7" r="6" class="H" clip-path="url(#L)"/><circle cx="626.7" cy="661.7" r="6" class="y1" clip-path="url(#R)"/>
<circle cx="518.7" cy="677.3" r="6.5" class="D" clip-path="url(#L)"/><circle cx="518.7" cy="677.3" r="6.5" class="y2" clip-path="url(#R)"/>
<circle cx="564.3" cy="683.7" r="7.5" class="A" clip-path="url(#L)"/><circle cx="564.3" cy="683.7" r="7.5" class="y2" clip-path="url(#R)"/>
<circle cx="520" cy="687.7" r="6" class="P" clip-path="url(#L)"/><circle cx="520" cy="687.7" r="6" class="y1" clip-path="url(#R)"/>
<circle cx="522.3" cy="697.7" r="6" class="P" clip-path="url(#L)"/><circle cx="522.3" cy="697.7" r="6" class="y3" clip-path="url(#R)"/>
<circle cx="578.7" cy="696.3" r="5.5" class="F" clip-path="url(#L)"/><circle cx="578.7" cy="696.3" r="5.5" class="y3" clip-path="url(#R)"/>
<circle cx="489.3" cy="706.3" r="6" class="P" clip-path="url(#L)"/><circle cx="489.3" cy="706.3" r="6" class="y2" clip-path="url(#R)"/>
<circle cx="674.3" cy="701" r="5.5" class="S" clip-path="url(#L)"/><circle cx="674.3" cy="701" r="5.5" class="y1" clip-path="url(#R)"/>
<circle cx="516" cy="713" r="6.5" class="P" clip-path="url(#L)"/><circle cx="516" cy="713" r="6.5" class="y4" clip-path="url(#R)"/>
<circle cx="661" cy="720.3" r="6" class="H" clip-path="url(#L)"/><circle cx="661" cy="720.3" r="6" class="y5" clip-path="url(#R)"/>
<circle cx="697.7" cy="720" r="6.5" class="T" clip-path="url(#L)"/><circle cx="697.7" cy="720" r="6.5" class="y1" clip-path="url(#R)"/>
<circle cx="547.3" cy="718.7" r="7" class="A" clip-path="url(#L)"/><circle cx="547.3" cy="718.7" r="7" class="y3" clip-path="url(#R)"/>
<circle cx="546" cy="724.3" r="6" class="D" clip-path="url(#L)"/><circle cx="546" cy="724.3" r="6" class="y2" clip-path="url(#R)"/>
<circle cx="682" cy="729.7" r="6" class="T" clip-path="url(#L)"/><circle cx="682" cy="729.7" r="6" class="y5" clip-path="url(#R)"/>
<circle cx="519.3" cy="736" r="5" class="A" clip-path="url(#L)"/><circle cx="519.3" cy="736" r="5" class="y5" clip-path="url(#R)"/>
<circle cx="542.7" cy="739" r="6" class="D" clip-path="url(#L)"/><circle cx="542.7" cy="739" r="6" class="y3" clip-path="url(#R)"/>
<circle cx="556.7" cy="740" r="7" class="F" clip-path="url(#L)"/><circle cx="556.7" cy="740" r="7" class="y1" clip-path="url(#R)"/>
<circle cx="658.3" cy="746.7" r="5" class="S" clip-path="url(#L)"/><circle cx="658.3" cy="746.7" r="5" class="y5" clip-path="url(#R)"/>
<circle cx="705" cy="749.3" r="6.5" class="T" clip-path="url(#L)"/><circle cx="705" cy="749.3" r="6.5" class="y1" clip-path="url(#R)"/>
<circle cx="510.7" cy="749" r="5.5" class="P" clip-path="url(#L)"/><circle cx="510.7" cy="749" r="5.5" class="y2" clip-path="url(#R)"/>
<circle cx="531.7" cy="750" r="8" class="A" clip-path="url(#L)"/><circle cx="531.7" cy="750" r="8" class="y2" clip-path="url(#R)"/>
<circle cx="536.7" cy="751.7" r="7" class="H" clip-path="url(#L)"/><circle cx="536.7" cy="751.7" r="7" class="y4" clip-path="url(#R)"/>
<circle cx="555" cy="753.3" r="7.5" class="A" clip-path="url(#L)"/><circle cx="555" cy="753.3" r="7.5" class="y1" clip-path="url(#R)"/>
<circle cx="570" cy="755" r="7" class="F" clip-path="url(#L)"/><circle cx="570" cy="755" r="7" class="y1" clip-path="url(#R)"/>
<circle cx="543.3" cy="760" r="6" class="F" clip-path="url(#L)"/><circle cx="543.3" cy="760" r="6" class="y5" clip-path="url(#R)"/>
<circle cx="515" cy="758.3" r="6" class="P" clip-path="url(#L)"/><circle cx="515" cy="758.3" r="6" class="y2" clip-path="url(#R)"/>
<circle cx="535" cy="764.3" r="5.5" class="P" clip-path="url(#L)"/><circle cx="535" cy="764.3" r="5.5" class="y2" clip-path="url(#R)"/>
<circle cx="507.3" cy="764.3" r="7" class="D" clip-path="url(#L)"/><circle cx="507.3" cy="764.3" r="7" class="y2" clip-path="url(#R)"/>
<circle cx="686.7" cy="764.3" r="6.5" class="S" clip-path="url(#L)"/><circle cx="686.7" cy="764.3" r="6.5" class="y2" clip-path="url(#R)"/>
<circle cx="551.7" cy="770" r="6" class="D" clip-path="url(#L)"/><circle cx="551.7" cy="770" r="6" class="y1" clip-path="url(#R)"/>
<circle cx="570" cy="772.3" r="6.5" class="D" clip-path="url(#L)"/><circle cx="570" cy="772.3" r="6.5" class="y4" clip-path="url(#R)"/>
<circle cx="593.3" cy="769.3" r="5.5" class="F" clip-path="url(#L)"/><circle cx="593.3" cy="769.3" r="5.5" class="y2" clip-path="url(#R)"/>
<circle cx="556.7" cy="778.7" r="6" class="A" clip-path="url(#L)"/><circle cx="556.7" cy="778.7" r="6" class="y1" clip-path="url(#R)"/>
<circle cx="655" cy="771" r="5.5" class="H" clip-path="url(#L)"/><circle cx="655" cy="771" r="5.5" class="y2" clip-path="url(#R)"/>
<circle cx="661.7" cy="772.7" r="5" class="H" clip-path="url(#L)"/><circle cx="661.7" cy="772.7" r="5" class="y2" clip-path="url(#R)"/>
<circle cx="640" cy="778.3" r="6" class="H" clip-path="url(#L)"/><circle cx="640" cy="778.3" r="6" class="y2" clip-path="url(#R)"/>
<circle cx="680" cy="774.3" r="6.5" class="H" clip-path="url(#L)"/><circle cx="680" cy="774.3" r="6.5" class="y2" clip-path="url(#R)"/>
<circle cx="686.7" cy="771.7" r="6.5" class="H" clip-path="url(#L)"/><circle cx="686.7" cy="771.7" r="6.5" class="y4" clip-path="url(#R)"/>
<circle cx="689.3" cy="776.7" r="6.5" class="H" clip-path="url(#L)"/><circle cx="689.3" cy="776.7" r="6.5" class="y4" clip-path="url(#R)"/>
<circle cx="728.3" cy="772.7" r="6" class="I" clip-path="url(#L)"/><circle cx="728.3" cy="772.7" r="6" class="y2" clip-path="url(#R)"/>
<circle cx="731.7" cy="775.3" r="5" class="H" clip-path="url(#L)"/><circle cx="731.7" cy="775.3" r="5" class="y2" clip-path="url(#R)"/>
<circle cx="755.7" cy="782.3" r="6" class="I" clip-path="url(#L)"/><circle cx="755.7" cy="782.3" r="6" class="y4" clip-path="url(#R)"/>
<circle cx="512.3" cy="786" r="6" class="A" clip-path="url(#L)"/><circle cx="512.3" cy="786" r="6" class="y1" clip-path="url(#R)"/>
<circle cx="519.3" cy="784" r="6" class="A" clip-path="url(#L)"/><circle cx="519.3" cy="784" r="6" class="y1" clip-path="url(#R)"/>
<circle cx="535" cy="786.7" r="7" class="D" clip-path="url(#L)"/><circle cx="535" cy="786.7" r="7" class="y2" clip-path="url(#R)"/>
<circle cx="546.7" cy="787.3" r="6" class="F" clip-path="url(#L)"/><circle cx="546.7" cy="787.3" r="6" class="y5" clip-path="url(#R)"/>
<circle cx="545" cy="788.3" r="6" class="A" clip-path="url(#L)"/><circle cx="545" cy="788.3" r="6" class="y2" clip-path="url(#R)"/>
<circle cx="552.7" cy="785.7" r="5.5" class="H" clip-path="url(#L)"/><circle cx="552.7" cy="785.7" r="5.5" class="y2" clip-path="url(#R)"/>
<circle cx="571.7" cy="786" r="6.5" class="A" clip-path="url(#L)"/><circle cx="571.7" cy="786" r="6.5" class="y2" clip-path="url(#R)"/>
<circle cx="580" cy="784" r="6" class="H" clip-path="url(#L)"/><circle cx="580" cy="784" r="6" class="y2" clip-path="url(#R)"/>
<circle cx="608.3" cy="795.7" r="5.5" class="F" clip-path="url(#L)"/><circle cx="608.3" cy="795.7" r="5.5" class="y4" clip-path="url(#R)"/>
<circle cx="630.7" cy="795.7" r="5.5" class="H" clip-path="url(#L)"/><circle cx="630.7" cy="795.7" r="5.5" class="y5" clip-path="url(#R)"/>
<circle cx="640.7" cy="791.7" r="7" class="S" clip-path="url(#L)"/><circle cx="640.7" cy="791.7" r="7" class="y3" clip-path="url(#R)"/>
<circle cx="657.3" cy="789.3" r="6.5" class="S" clip-path="url(#L)"/><circle cx="657.3" cy="789.3" r="6.5" class="y2" clip-path="url(#R)"/>
<circle cx="668.3" cy="782.7" r="5.5" class="S" clip-path="url(#L)"/><circle cx="668.3" cy="782.7" r="5.5" class="y2" clip-path="url(#R)"/>
<circle cx="673.3" cy="789.3" r="5.5" class="H" clip-path="url(#L)"/><circle cx="673.3" cy="789.3" r="5.5" class="y2" clip-path="url(#R)"/>
<circle cx="686" cy="794.3" r="6" class="T" clip-path="url(#L)"/><circle cx="686" cy="794.3" r="6" class="y5" clip-path="url(#R)"/>
<circle cx="690" cy="796.7" r="5.5" class="T" clip-path="url(#L)"/><circle cx="690" cy="796.7" r="5.5" class="y4" clip-path="url(#R)"/>
<circle cx="690" cy="786.7" r="6" class="H" clip-path="url(#L)"/><circle cx="690" cy="786.7" r="6" class="y4" clip-path="url(#R)"/>
<circle cx="705" cy="781.7" r="5.5" class="T" clip-path="url(#L)"/><circle cx="705" cy="781.7" r="5.5" class="y2" clip-path="url(#R)"/>
<circle cx="701.7" cy="796" r="5.5" class="H" clip-path="url(#L)"/><circle cx="701.7" cy="796" r="5.5" class="y5" clip-path="url(#R)"/>
<circle cx="713.3" cy="783.3" r="5.5" class="H" clip-path="url(#L)"/><circle cx="713.3" cy="783.3" r="5.5" class="y2" clip-path="url(#R)"/>
<circle cx="720" cy="786.7" r="5" class="T" clip-path="url(#L)"/><circle cx="720" cy="786.7" r="5" class="y2" clip-path="url(#R)"/>
<circle cx="718.3" cy="796.7" r="5" class="T" clip-path="url(#L)"/><circle cx="718.3" cy="796.7" r="5" class="y5" clip-path="url(#R)"/>
<circle cx="730" cy="786.7" r="5" class="T" clip-path="url(#L)"/><circle cx="730" cy="786.7" r="5" class="y3" clip-path="url(#R)"/>
<circle cx="732.7" cy="796" r="5.5" class="I" clip-path="url(#L)"/><circle cx="732.7" cy="796" r="5.5" class="y2" clip-path="url(#R)"/>
<circle cx="511.7" cy="796" r="5" class="P" clip-path="url(#L)"/><circle cx="511.7" cy="796" r="5" class="y5" clip-path="url(#R)"/>
<circle cx="521.7" cy="797.3" r="5" class="D" clip-path="url(#L)"/><circle cx="521.7" cy="797.3" r="5" class="y5" clip-path="url(#R)"/>
</g>
<rect class="bd" x="465" y="439.3" width="304.3" height="374"/>
<g class="tm">
<line x1="460.5" x2="465" y1="797.3" y2="797.3"/><line x1="460.5" x2="465" y1="680.3" y2="680.3"/><line x1="460.5" x2="465" y1="563" y2="563"/><line x1="460.5" x2="465" y1="445.3" y2="445.3"/>
<line y1="813.3" y2="817.8" x1="530" x2="530"/><line y1="813.3" y2="817.8" x1="602.7" x2="602.7"/><line y1="813.3" y2="817.8" x1="675.3" x2="675.3"/><line y1="813.3" y2="817.8" x1="748.3" x2="748.3"/>
</g>
<g class="tk" text-anchor="end">
<text x="456.5" y="801.3">0</text><text x="456.5" y="684.3">200</text><text x="456.5" y="567">400</text><text x="456.5" y="449.3">600</text>
</g>
<g class="tk" text-anchor="middle">
<text x="530" y="831">17.5</text><text x="602.7" y="831">20.0</text><text x="675.3" y="831">22.5</text><text x="748.3" y="831">25.0</text>
</g>
<text class="ttl" x="763" y="465" text-anchor="end">玉米赤黴烯酮(ppb)</text>

<!-- ============ LEGEND ============ -->
<rect x="775" y="400" width="166" height="24" fill="#fff"/>
<text class="lt" x="812" y="419">年份和國別</text>
<g>
<path d="M802.5 432.7 a4.3 4.3 0 0 1 0 8.6z" fill="#2000f5"/>
<path d="M802.5 457 a4.3 4.3 0 0 1 0 8.6z" fill="#4020f0"/>
<path d="M802.5 481.4 a4.3 4.3 0 0 1 0 8.6z" fill="#5a3ae8"/>
<path d="M802.5 506 a4.3 4.3 0 0 1 0 8.6z" fill="#6b4ee0"/>
<path d="M802.5 530.4 a4.3 4.3 0 0 1 0 8.6z" fill="#7a5cd8"/>
<path d="M802.5 555.4 a4.3 4.3 0 0 1 0 8.6z" fill="#7a68d0"/>
<path d="M802.5 579.7 a4.3 4.3 0 0 1 0 8.6z" fill="#7a7cc0"/>
<path d="M802.5 604.4 a4.3 4.3 0 0 1 0 8.6z" fill="#7088b8"/>
<path d="M802.5 629 a4.3 4.3 0 0 1 0 8.6z" fill="#6a94a8"/>
<path d="M802.5 653.4 a4.3 4.3 0 0 1 0 8.6z" fill="#60a098"/>
<path d="M802.5 678 a4.3 4.3 0 0 1 0 8.6z" fill="#50ae88"/>
<path d="M802.5 702.4 a4.3 4.3 0 0 1 0 8.6z" fill="#38c070"/>
<path d="M802.5 727.4 a4.3 4.3 0 0 1 0 8.6z" fill="#10d860"/>
<path d="M863 432.7 a4.3 4.3 0 0 1 0 8.6z" fill="#10e068"/>
<path d="M863 457 a4.3 4.3 0 0 1 0 8.6z" fill="#00e848"/>
<path d="M863 481.4 a4.3 4.3 0 0 1 0 8.6z" fill="#00f020"/>
<path d="M863 506 a4.3 4.3 0 0 1 0 8.6z" fill="#30ff00"/>
<path d="M860.5 530.4 a4.3 4.3 0 0 0 0 8.6z" fill="#3a0030"/>
<path d="M860.5 555.4 a4.3 4.3 0 0 0 0 8.6z" fill="#1060f0"/>
<path d="M860.5 579.7 a4.3 4.3 0 0 0 0 8.6z" fill="#00c8d8"/>
<path d="M860.5 604.4 a4.3 4.3 0 0 0 0 8.6z" fill="#00e860"/>
<path d="M860.5 629 a4.3 4.3 0 0 0 0 8.6z" fill="#c0e800"/>
<path d="M860.5 653.4 a4.3 4.3 0 0 0 0 8.6z" fill="#ff9010"/>
<path d="M860.5 678 a4.3 4.3 0 0 0 0 8.6z" fill="#ff3800"/>
<path d="M860.5 702.4 a4.3 4.3 0 0 0 0 8.6z" fill="#8b0000"/>
</g>
<g class="lg">
<text x="819" y="441">2006</text><text x="819" y="465.3">2007</text><text x="819" y="489.7">2008</text><text x="819" y="514.3">2009</text><text x="819" y="538.7">2010</text><text x="819" y="563.7">2011</text><text x="819" y="588">2012</text><text x="819" y="612.7">2013</text><text x="819" y="637.3">2014</text><text x="819" y="661.7">2015</text><text x="819" y="686.3">2016</text><text x="819" y="710.7">2017</text><text x="819" y="735.7">2018</text>
<text x="876" y="441">2019</text><text x="876" y="465.3">2020</text><text x="876" y="489.7">2021</text><text x="876" y="514.3">2022</text>
</g>
<g class="ct">
<text x="871" y="540">奧地利</text><text x="871" y="565">法國</text><text x="871" y="589.3">德國</text><text x="871" y="614">匈牙利</text><text x="871" y="638.5">義大利</text><text x="871" y="663">波蘭</text><text x="871" y="687.5">西班牙</text><text x="871" y="712">土耳其</text>
</g>
<text class="lt" x="793" y="774">樣品數量</text>
<circle cx="802.7" cy="803.3" r="9.3" fill="#000"/>
<circle cx="802.7" cy="843.7" r="10.7" fill="#000"/>
<text class="lg" x="819" y="807.3">200</text>
<text class="lg" x="819" y="847.7">400</text>
</svg>
</body></html>
